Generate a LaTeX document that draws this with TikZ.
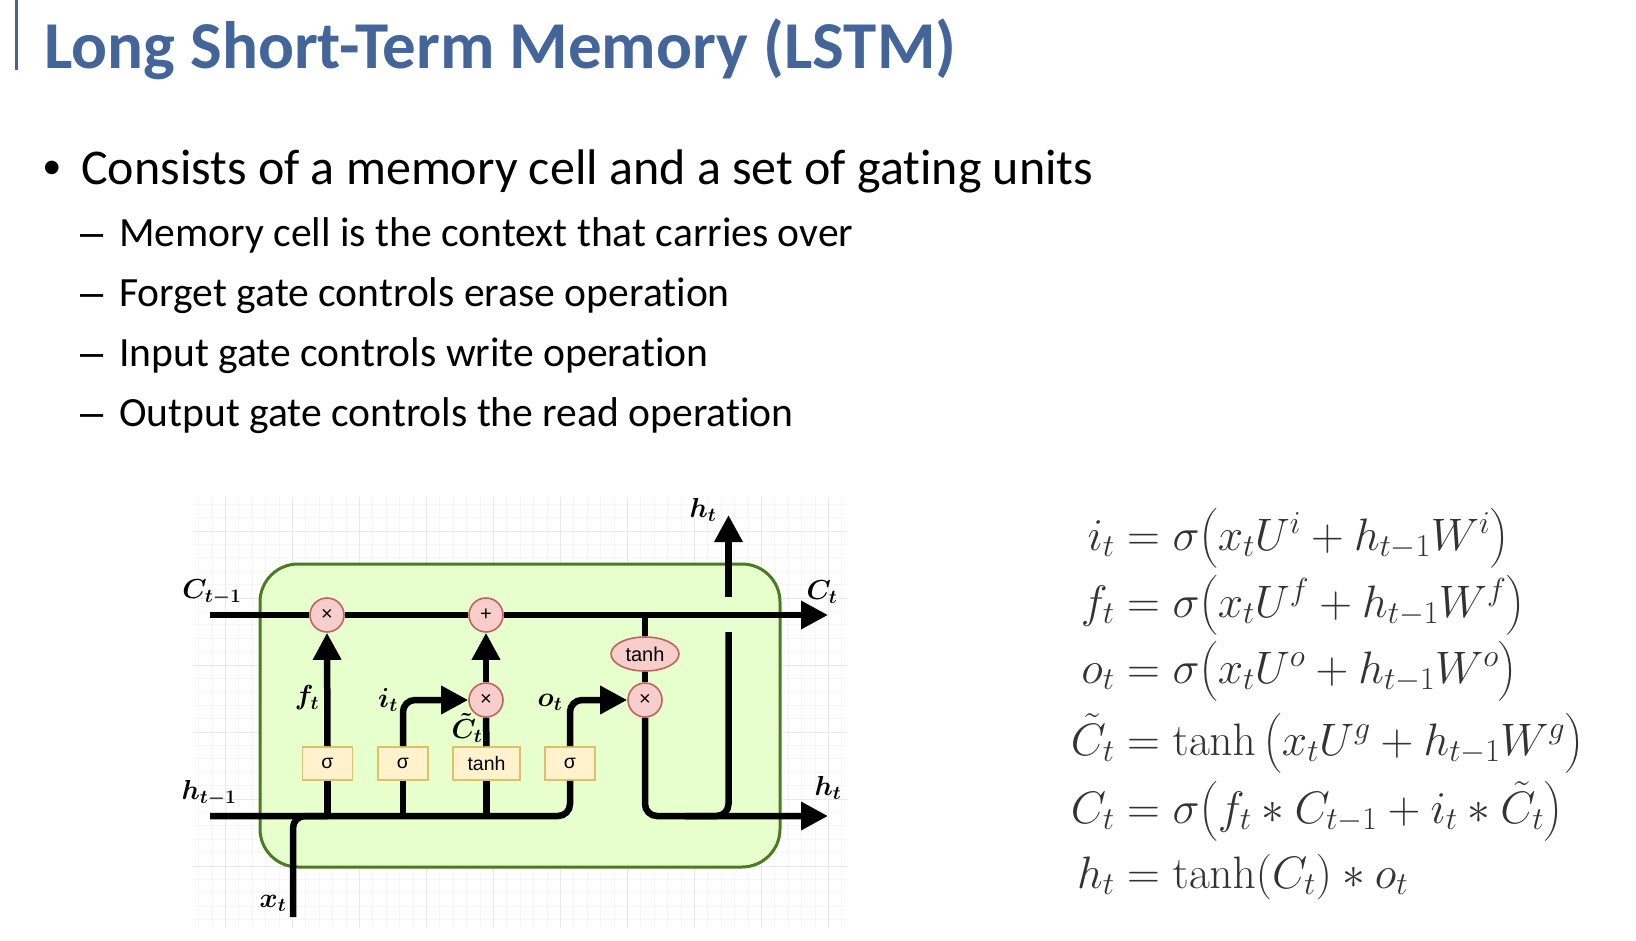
\documentclass[tikz,border=0pt]{standalone}
\usepackage{fix-cm}
\usepackage[no-math]{fontspec}
\usepackage{amsmath}
\setmainfont[Ligatures=NoCommon]{Carlito}
\newfontfamily\cellfont{Liberation Sans}
\usetikzlibrary{arrows.meta,shapes.geometric}
\definecolor{titleblue}{HTML}{44659A}
\definecolor{cellfill}{HTML}{E6FFCC}
\definecolor{celledge}{HTML}{4A7A22}
\definecolor{gatefill}{HTML}{F8CECC}
\definecolor{gateedge}{HTML}{BE6460}
\definecolor{layerfill}{HTML}{FFF2CC}
\definecolor{layeredge}{HTML}{DDC06A}
\newcommand{\eqnrow}[2]{\llap{$#1\;$}$=#2$}
\tikzset{
    titletext/.style={anchor=base west,inner sep=0pt,text=titleblue,font=\fontsize{67}{74}\selectfont\bfseries},
    maintext/.style={anchor=base west,inner sep=0pt,font=\fontsize{50}{58}\selectfont},
    subtext/.style={anchor=base west,inner sep=0pt,font=\fontsize{41.6}{48}\selectfont},
    maindot/.style={anchor=base west,inner sep=0pt,font=\cellfont\fontsize{50}{58}\selectfont},
    subdash/.style={anchor=base west,inner sep=0pt,font=\cellfont\fontsize{41.6}{48}\selectfont},
    gridminor/.style={draw=black!4,line width=0.8pt},
    gridmajor/.style={draw=black!9,line width=1pt},
    wire/.style={draw=black,line width=6.5pt,rounded corners=12pt},
    flow/.style={wire,-{Triangle[length=27pt,width=27pt]}},
    gate/.style={ellipse,draw=gateedge,fill=gatefill,line width=1.6pt,minimum width=34pt,minimum height=34pt,inner sep=0pt,font=\cellfont\fontsize{20}{22}\selectfont},
    layerbox/.style={rectangle,draw=layeredge,fill=layerfill,line width=1.6pt,minimum height=33pt,inner sep=0pt,font=\cellfont\fontsize{19.5}{22}\selectfont},
    sym/.style={inner sep=0pt,font=\fontsize{27.5}{32}\selectfont\boldmath},
    eqn/.style={anchor=base west,inner sep=0pt,text=black!80,font=\fontsize{45.5}{52}\selectfont},
}
\begin{document}
\begin{tikzpicture}[x=1pt,y=-1pt]
    \useasboundingbox (0,0) rectangle (1636,940);
    \fill[white] (0,0) rectangle (1636,940);
    % heading
    \draw[titleblue,line width=3pt] (16,0) -- (16,70);
    \node[titletext] (title) at (44,68) {Long Short-Term Memory (LSTM)};
    \node[maindot] (dotA) at (43,184) {•};
    \node[maintext] (lineA) at (81,184) {Consists of a memory cell and a set of gating units};
    \node[subdash] (dashB) at (80,246) {–};
    \node[subtext] (lineB) at (119,246) {Memory cell is the context that carries over};
    \node[subdash] (dashC) at (80,306) {–};
    \node[subtext] (lineC) at (119,306) {Forget gate controls erase operation};
    \node[subdash] (dashD) at (80,366) {–};
    \node[subtext] (lineD) at (119,366) {Input gate controls write operation};
    \node[subdash] (dashE) at (80,426) {–};
    \node[subtext] (lineE) at (119,426) {Output gate controls the read operation};
    % paper grid
    \foreach \k in {0,...,48}
        \draw[gridminor] ({198.6+13.4*\k},497) -- ({198.6+13.4*\k},928);
    \foreach \k in {0,...,31}
        \draw[gridminor] (193,{504.2+13.4*\k}) -- (847,{504.2+13.4*\k});
    \foreach \k in {0,...,9}
        \draw[gridmajor] ({225.4+67*\k},497) -- ({225.4+67*\k},928);
    \foreach \k in {0,...,5}
        \draw[gridmajor] (193,{531+67*\k}) -- (847,{531+67*\k});
    % cell
    \node[rectangle,rounded corners=38pt,draw=celledge,fill=cellfill,line width=3pt,minimum width=520pt,minimum height=303pt,inner sep=0pt] (cell) at (520,715.5) {};
    % gates
    \node[gate] (Mf) at (327,615) {×};
    \node[gate] (Add) at (486,615) {+};
    \node[gate] (Mi) at (486,700) {×};
    \node[gate] (Mo) at (645,700) {×};
    \node[gate,minimum width=68pt] (Th) at (645,654) {tanh};
    \node[layerbox,minimum width=50pt] (Sf) at (327.5,763.5) {σ};
    \node[layerbox,minimum width=50pt] (Si) at (403,763.5) {σ};
    \node[layerbox,minimum width=67pt] (St) at (486.5,763.5) {tanh};
    \node[layerbox,minimum width=50pt] (So) at (570,763.5) {σ};
    % free ends
    \coordinate (Cin) at (210,615);
    \coordinate (Cout) at (828,615);
    \coordinate (hin) at (210,816);
    \coordinate (hout) at (828,816);
    \coordinate (xin) at (293,917);
    \coordinate (hmid) at (685,816);
    \coordinate (gapB) at (728.5,632);
    \coordinate (gapT) at (728.5,597);
    \coordinate (htop) at (728.5,515);
    % wires
    \draw[wire] (Cin) -- (Mf.west);
    \draw[wire] (Mf.east) -- (Add.west);
    \draw[flow] (Add.east) -- (Cout);
    \draw[wire] (hin) -| (So.south);
    \draw[wire] (xin) |- (Sf.south |- hin);
    \draw[wire] (Sf.south) -- (Sf.south |- hin);
    \draw[wire] (Si.south) -- (Si.south |- hin);
    \draw[wire] (St.south) -- (St.south |- hin);
    \draw[flow] (Sf.north) -- (Mf.south);
    \draw[flow] (Si.north) |- (Mi.west);
    \draw[wire] (St.north) -- (Mi.south);
    \draw[flow] (Mi.north) -- (Add.south);
    \draw[flow] (So.north) |- (Mo.west);
    \draw[wire] (Th.north) -- (Th.north |- Cin);
    \draw[wire] (Mo.north) -- (Th.south);
    \draw[flow] (Mo.south) |- (hout);
    \draw[wire] (hmid) -| (gapB);
    \draw[flow] (gapT) -- (htop);
    % labels
    \node[sym] (lCin) at (212,592) {$C_{t-1}$};
    \node[sym] (lhin) at (209,793) {$h_{t-1}$};
    \node[sym] (lCout) at (822,592) {$C_t$};
    \node[sym] (lhout) at (828,788) {$h_t$};
    \node[sym] (lhtop) at (703,510) {$h_t$};
    \node[sym] (lf) at (307,698) {$f_t$};
    \node[sym] (li) at (388,700) {$i_t$};
    \node[sym] (lo) at (550,702) {$o_t$};
    \node[sym] (lCt) at (467,728) {$\tilde{C}_t$};
    \node[sym] (lx) at (273,903) {$x_t$};
    % equations
    \node[eqn] (Ei) at (1127,550) {\eqnrow{i_t}{\sigma\bigl(x_tU^i+h_{t-1}W^i\bigr)}};
    \node[eqn] (Ef) at (1127,617) {\eqnrow{f_t}{\sigma\bigl(x_tU^f+h_{t-1}W^f\bigr)}};
    \node[eqn] (Eo) at (1127,683) {\eqnrow{o_t}{\sigma\bigl(x_tU^o+h_{t-1}W^o\bigr)}};
    \node[eqn] (Eg) at (1127,755) {\eqnrow{\tilde{C}_t}{\tanh\,\bigl(x_tU^g+h_{t-1}W^g\bigr)}};
    \node[eqn] (Ec) at (1127,823) {\eqnrow{C_t}{\sigma\bigl(f_t*C_{t-1}+i_t*\tilde{C}_t\bigr)}};
    \node[eqn] (Eh) at (1127,888) {\eqnrow{h_t}{\tanh(C_t)*o_t}};
\end{tikzpicture}
\end{document}
